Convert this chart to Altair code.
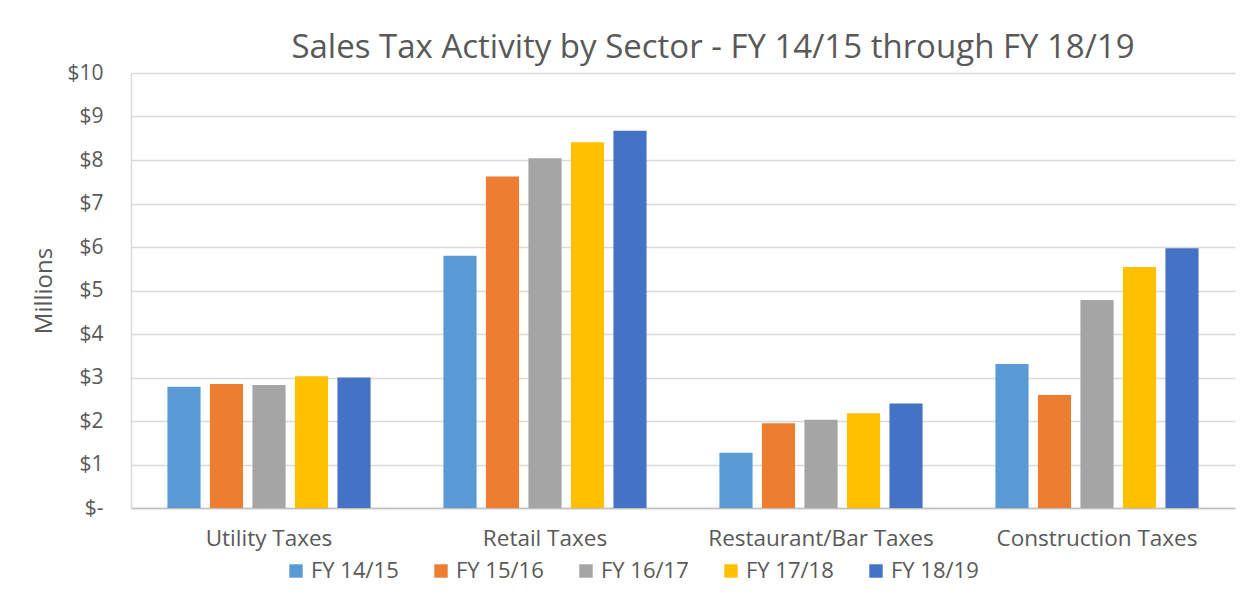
import altair as alt
import pandas as pd

sectors = ["Utility Taxes", "Retail Taxes", "Restaurant/Bar Taxes", "Construction Taxes"]
years = ["FY 14/15", "FY 15/16", "FY 16/17", "FY 17/18", "FY 18/19"]
values = {
    "FY 14/15": [2.79, 5.80, 1.27, 3.31],
    "FY 15/16": [2.85, 7.62, 1.95, 2.60],
    "FY 16/17": [2.83, 8.04, 2.03, 4.78],
    "FY 17/18": [3.03, 8.41, 2.18, 5.54],
    "FY 18/19": [3.00, 8.67, 2.40, 5.97],
}
colors = ["#5B9BD5", "#ED7D31", "#A5A5A5", "#FFC000", "#4472C4"]
y_ticks = [0, 1, 2, 3, 4, 5, 6, 7, 8, 9, 10]

rows = []
for yr in years:
    for s, v in zip(sectors, values[yr]):
        rows.append({"Sector": s, "Year": yr, "Value": v})
df = pd.DataFrame(rows)

FONT = "Open Sans"
TXT = "#595959"

chart = alt.Chart(df).mark_bar().encode(
    x=alt.X("Sector:N", sort=sectors,
            scale=alt.Scale(paddingInner=0.23, paddingOuter=0.115),
            axis=alt.Axis(title=None, labelAngle=0, labelFontSize=22.5, labelColor=TXT,
                          labelFont=FONT, ticks=False, labelPadding=19, labelLimit=0,
                          domainColor="#bfbfbf", domainWidth=1.5)),
    xOffset=alt.XOffset("Year:N", sort=years,
                        scale=alt.Scale(paddingInner=0.22, paddingOuter=0.11)),
    y=alt.Y("Value:Q", scale=alt.Scale(domain=[0, 10], nice=False),
            axis=alt.Axis(title="Millions", values=y_ticks,
                          labelExpr="datum.value == 0 ? '$-' : '$' + datum.value",
                          labelFontSize=21, labelColor=TXT, labelFont=FONT,
                          labelPadding=28, ticks=False,
                          titleFontSize=24, titleColor=TXT, titleFont=FONT,
                          titleFontWeight="normal", titlePadding=10,
                          gridColor="#d9d9d9", gridWidth=1.5,
                          domain=True, domainColor="#d9d9d9", domainWidth=1.5)),
    color=alt.Color("Year:N", sort=years,
                    scale=alt.Scale(domain=years, range=colors),
                    legend=alt.Legend(title=None, orient="none", direction="horizontal",
                                      legendX=154, legendY=487,
                                      symbolType="square", symbolSize=180,
                                      symbolStrokeWidth=0,
                                      labelFontSize=22, labelColor=TXT, labelFont=FONT,
                                      gridAlign="all", columnPadding=31,
                                      symbolOffset=0, labelOffset=4)),
).properties(
    width=1104,
    height=435,
    title=alt.TitleParams("Sales Tax Activity by Sector - FY 14/15 through FY 18/19",
                          fontSize=33, color=TXT, font=FONT, fontWeight="normal",
                          anchor="middle", dx=30, offset=-3),
    autosize=alt.AutoSizeParams(type="none"),
    padding={"left": 123, "top": 65, "right": 11, "bottom": 75},
).configure_view(stroke=None)

chart.save("out.html", embed_options={"renderer": "svg", "actions": False})
